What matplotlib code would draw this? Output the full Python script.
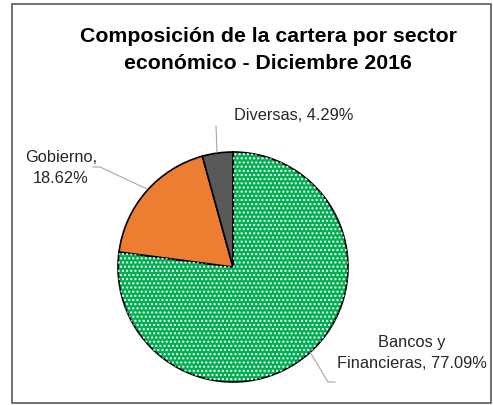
import matplotlib
matplotlib.use("Agg")
import matplotlib.pyplot as plt
from matplotlib.patches import Rectangle

# data
sectors = ["Bancos y\nFinancieras", "Gobierno", "Diversas"]
shares = [77.09, 18.62, 4.29]
colors = ["#00B050", "#ED7D31", "#595959"]
title = "Composición de la cartera por sector\neconómico - Diciembre 2016"

plt.rcParams['font.family'] = ['Liberation Sans', 'DejaVu Sans']
plt.rcParams['hatch.linewidth'] = 1.0

W, H = 493, 406
fig = plt.figure(figsize=(W / 100, H / 100), dpi=100)

# pie centre / radius in pixels
cx, cy, r = 233, 268, 115
ax = fig.add_axes([(cx - r) / W, (H - cy - r) / H, 2 * r / W, 2 * r / H])

wedges, _ = ax.pie(shares, colors=colors, startangle=90, counterclock=False,
                   radius=1, wedgeprops=dict(edgecolor="black", linewidth=1.2))
# dotted pattern on the green slice
over, _ = ax.pie(shares, colors=["none"] * 3, startangle=90, counterclock=False,
                 radius=1, wedgeprops=dict(linewidth=0))
over[0].set_hatch("....")
over[0].set_edgecolor("white")
over[0].set_facecolor("none")
for w in over[1:]:
    w.set_visible(False)

ax.set_xlim(-1, 1)
ax.set_ylim(-1, 1)
ax.set_axis_off()


def px(x, y):
    return ((x - cx) / r, (cy - y) / r)


labels = [f"{sectors[0]}, {shares[0]:.2f}%",
          f"{sectors[1]},\n{shares[1]:.2f}%",
          f"{sectors[2]}, {shares[2]:.2f}%"]

grey = "#A6A6A6"
txt = "#262626"
fs = 11.8
# Bancos
ax.plot(*zip(px(310, 353), px(328, 383), px(335, 383)), color=grey, lw=0.8, clip_on=False)
ax.text(*px(412, 353), labels[0], ha="center", va="center", fontsize=fs,
        color=txt, linespacing=1.5)
# Gobierno
ax.plot(*zip(px(147, 190), px(100, 168), px(93, 168)), color=grey, lw=0.8, clip_on=False)
ax.text(*px(61, 168), labels[1], ha="center", va="center", fontsize=fs,
        color=txt, linespacing=1.5)
# Diversas
ax.plot(*zip(px(217, 153), px(216, 127)), color=grey, lw=0.8, clip_on=False)
ax.text(*px(294, 115), labels[2], ha="center", va="center", fontsize=fs,
        color=txt)

fig.text(268 / W, 1 - 50 / H, title, ha="center", va="center", fontsize=15.3,
         fontweight="bold", linespacing=1.55, color="black")

fig.add_artist(Rectangle((12 / W, 2 / H), 479 / W, 399 / H, transform=fig.transFigure,
                         fill=False, edgecolor="#595959", linewidth=1.2))

fig.savefig("out.png", dpi=100)
